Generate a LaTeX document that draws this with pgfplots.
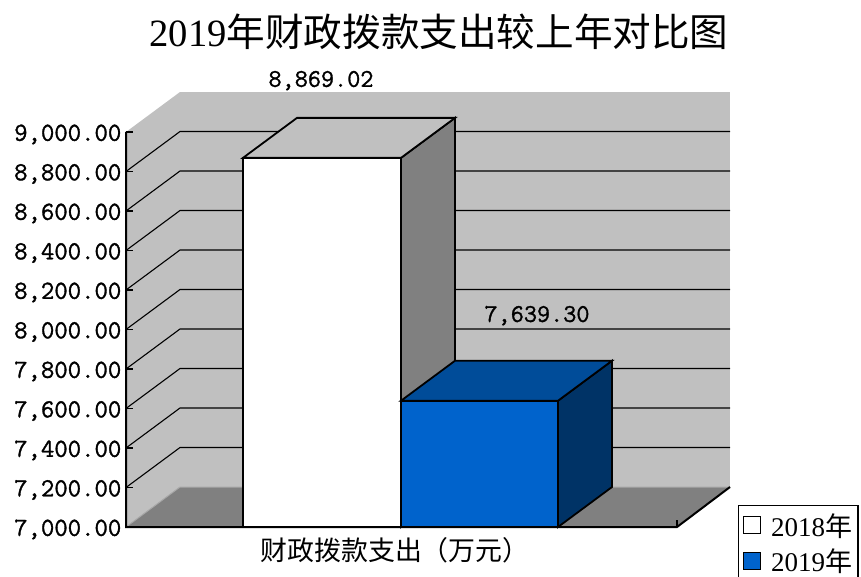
\documentclass[border=0pt]{standalone}
\usepackage{fontspec}
\usepackage{pgfplots}
\pgfplotsset{compat=1.18}
\setmainfont{Liberation Serif}
\setmonofont[FakeBold=1.2]{Latin Modern Mono}
\newfontfamily\cjk{Noto Sans CJK SC}
\definecolor{wall}{HTML}{C0C0C0}
\definecolor{floorc}{HTML}{808080}
\definecolor{bluef}{HTML}{0063CC}
\definecolor{bluet}{HTML}{004C99}
\definecolor{blues}{HTML}{003366}
\definecolor{edgec}{HTML}{A8A8A8}
\begin{document}
\begin{tikzpicture}
\useasboundingbox (0,0) rectangle (861pt,576pt);
\clip (0,0) rectangle (861pt,576pt);
\begin{axis}[
  at={(126pt,0pt)}, anchor=south west,
  scale only axis, width=735pt, height=576pt,
  xmin=126, xmax=861, ymin=6751.9, ymax=9668.35,
  clip=false,
  axis on top,
  axis line style={draw=none},
  xtick=\empty,
  ytick={7000,7200,7400,7600,7800,8000,8200,8400,8600,8800,9000},
  tick align=inside,
  ytick pos=left,
  major tick length=7pt,
  tick style={black,line width=1.6pt},
  yticklabel style={font=\fontsize{26}{27}\selectfont\ttfamily,
    /pgf/number format/fixed, /pgf/number format/fixed zerofill,
    /pgf/number format/precision=2, /pgf/number format/1000 sep={,},
    /pgf/number format/assume math mode=true, inner xsep=0pt, xshift=-4.5pt, yshift=-2.5pt},
  legend style={at={(axis cs:738,7111.4)},anchor=north west,draw=black,line width=1.4pt,
    font=\fontsize{27}{28}\selectfont, inner xsep=4pt, inner ysep=6pt, row sep=7pt},
  legend cell align=left,
  legend image code/.code={\draw[#1,line width=1.1pt] (0pt,-8pt) rectangle (17pt,9pt); \path (25pt,0pt);},
  legend columns=1,
]
% back and left walls
\addplot[fill=wall,draw=none,forget plot] coordinates {(180,7202.5)(730,7202.5)(730,9202.5)(180,9202.5)} --cycle;
\addplot[fill=wall,draw=none,forget plot] coordinates {(126,7000)(180,7202.5)(180,9202.5)(126,9000)} --cycle;
% floor
\addplot[fill=floorc,draw=none,forget plot] coordinates {(126,7000)(677,7000)(730,7202.5)(180,7202.5)} --cycle;
\addplot[edgec,line width=1pt,forget plot] coordinates {(126,7000)(180,7202.5)(730,7202.5)};
% grid
\addplot[black,line width=1.1pt,forget plot] coordinates {(126,7200)(180,7402.5)(730,7402.5)};
\addplot[black,line width=1.1pt,forget plot] coordinates {(126,7400)(180,7602.5)(730,7602.5)};
\addplot[black,line width=1.1pt,forget plot] coordinates {(126,7600)(180,7802.5)(730,7802.5)};
\addplot[black,line width=1.1pt,forget plot] coordinates {(126,7800)(180,8002.5)(730,8002.5)};
\addplot[black,line width=1.1pt,forget plot] coordinates {(126,8000)(180,8202.5)(730,8202.5)};
\addplot[black,line width=1.1pt,forget plot] coordinates {(126,8200)(180,8402.5)(730,8402.5)};
\addplot[black,line width=1.1pt,forget plot] coordinates {(126,8400)(180,8602.5)(730,8602.5)};
\addplot[black,line width=1.1pt,forget plot] coordinates {(126,8600)(180,8802.5)(730,8802.5)};
\addplot[black,line width=1.1pt,forget plot] coordinates {(126,8800)(180,9002.5)(730,9002.5)};
% axes
\addplot[black,line width=2pt,forget plot] coordinates {(126,9000)(126,7000)(677,7000)(730,7202.5)};
\addplot[black,line width=1.2pt,forget plot] coordinates {(677,7000)(677,7035)};
% 2018 bar
\addplot[fill=floorc,draw=black,line width=1.8pt,forget plot] coordinates {(401,7000)(455,7202.5)(455,9071.52)(401,8869.02)} --cycle;
\addplot[fill=wall,draw=black,line width=1.8pt,forget plot] coordinates {(243,8869.02)(297,9071.52)(455,9071.52)(401,8869.02)} --cycle;
\addplot[fill=white,draw=black,line width=1.8pt] coordinates {(243,7000)(401,7000)(401,8869.02)(243,8869.02)} --cycle;
\addlegendentry{2018{\cjk 年}\hspace{14pt}}
% 2019 bar
\addplot[fill=blues,draw=black,line width=1.8pt,forget plot] coordinates {(558,7000)(612,7202.5)(612,7841.8)(558,7639.3)} --cycle;
\addplot[fill=bluet,draw=black,line width=1.8pt,forget plot] coordinates {(401,7639.3)(455,7841.8)(612,7841.8)(558,7639.3)} --cycle;
\addplot[fill=bluef,draw=black,line width=1.8pt] coordinates {(401,7000)(558,7000)(558,7639.3)(401,7639.3)} --cycle;
\addlegendentry{2019{\cjk 年}\hspace{14pt}}
% texts
\node[font=\fontsize{25.5}{26}\selectfont\ttfamily] at (axis cs:321,9260) {8,869.02};
\node[font=\fontsize{25.5}{26}\selectfont\ttfamily] at (axis cs:537,8070) {7,639.30};
\node[font=\fontsize{38.6}{40}\selectfont] at (axis cs:439,9505) {2019{\cjk 年财政拨款支出较上年对比图}};
\node[font=\fontsize{26.9}{28}\selectfont\cjk] at (axis cs:395,6880) {财政拨款支出（万元）};
\end{axis}
\end{tikzpicture}
\end{document}
